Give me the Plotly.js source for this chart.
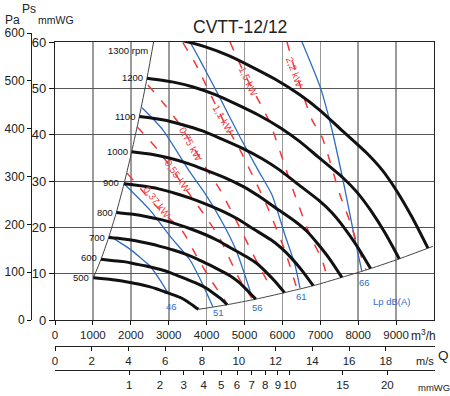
<!DOCTYPE html>
<html>
<head>
<meta charset="utf-8">
<script src="https://cdn.plot.ly/plotly-3.0.1.min.js"></script>
<style>html,body{margin:0;padding:0;background:#fff}#chart{width:450px;height:396px}</style>
</head>
<body>
<div id="chart"></div>
<script>
// ---------- data ----------
const rpmLabels = ["1300 rpm", "1200", "1100", "1000", "900", "800", "700", "600", "500"];

// fan curves: Q in m3/h, Ps in mmWG
const q1300 = [2630, 3350, 3950, 4600, 5150, 5800, 6460, 7000, 7520, 8230, 8630, 9020, 9440, 9840];
const p1300 = [61.3, 60.3, 59.0, 57.0, 54.8, 52.0, 48.6, 45.2, 41.3, 36.0, 32.4, 27.8, 21.9, 15.5];
const q1200 = [2428, 3092, 3646, 4246, 4754, 5354, 5963, 6462, 6942, 7597, 7966, 8326, 8714, 9083];
const p1200 = [52.2, 51.4, 50.3, 48.6, 46.7, 44.3, 41.4, 38.5, 35.2, 30.7, 27.6, 23.7, 18.7, 13.2];
const q1100 = [2225, 2835, 3342, 3892, 4358, 4908, 5466, 5923, 6363, 6964, 7302, 7632, 7988, 8326];
const p1100 = [43.9, 43.2, 42.2, 40.8, 39.2, 37.2, 34.8, 32.4, 29.6, 25.8, 23.2, 19.9, 15.7, 11.1];
const q1000 = [2023, 2577, 3038, 3538, 3962, 4462, 4969, 5385, 5785, 6331, 6638, 6938, 7262, 7569];
const p1000 = [36.3, 35.7, 34.9, 33.7, 32.4, 30.8, 28.8, 26.7, 24.4, 21.3, 19.2, 16.4, 13.0, 9.2];
const q900 = [1821, 2319, 2735, 3185, 3565, 4015, 4472, 4846, 5206, 5698, 5975, 6245, 6535, 6812];
const p900 = [29.4, 28.9, 28.3, 27.3, 26.3, 24.9, 23.3, 21.7, 19.8, 17.3, 15.5, 13.3, 10.5, 7.4];
const q800 = [1618, 2062, 2431, 2831, 3169, 3569, 3975, 4308, 4628, 5065, 5311, 5551, 5809, 6055];
const p800 = [23.2, 22.8, 22.3, 21.6, 20.8, 19.7, 18.4, 17.1, 15.6, 13.6, 12.3, 10.5, 8.3, 5.9];
const q700 = [1416, 1804, 2127, 2477, 2773, 3123, 3478, 3769, 4049, 4432, 4648, 4857, 5083, 5298];
const p700 = [17.8, 17.5, 17.1, 16.5, 15.9, 15.1, 14.1, 13.1, 12.0, 10.4, 9.4, 8.1, 6.3, 4.5];
const q600 = [1214, 1546, 1823, 2123, 2377, 2677, 2982, 3231, 3471, 3798, 3983, 4163, 4357, 4542];
const p600 = [13.1, 12.8, 12.6, 12.1, 11.7, 11.1, 10.4, 9.6, 8.8, 7.7, 6.9, 5.9, 4.7, 3.3];
const q500 = [1012, 1288, 1519, 1769, 1981, 2231, 2485, 2692, 2892, 3165, 3319, 3469, 3631, 3785];
const p500 = [9.1, 8.9, 8.7, 8.4, 8.1, 7.7, 7.2, 6.7, 6.1, 5.3, 4.8, 4.1, 3.2, 2.3];

// limit lines
const qStall = [1012, 1214, 1416, 1618, 1821, 2023, 2225, 2428, 2630];
const pStall = [9.1, 13.1, 17.8, 23.2, 29.4, 36.3, 43.9, 52.2, 61.3];
const qEnd = [3785, 4542, 5298, 6055, 6812, 7569, 8326, 9083, 9840, 9970];
const pEnd = [2.3, 3.3, 4.5, 5.9, 7.4, 9.2, 11.1, 13.2, 15.5, 15.9];

// sound pressure lines Lp dB(A)
const dbLabels = ["46", "51", "56", "61", "66"];
const q46 = [1451, 1979, 2322, 2507, 2771, 2982];
const p46 = [18.1, 15.3, 12.95, 11.65, 8.6, 5.8];
const q51 = [1821, 2507, 3034, 3562, 3879, 4169];
const p51 = [29.4, 23.7, 18.1, 12.95, 8.0, 2.8];
const q56 = [2296, 2850, 3562, 3984, 4406, 4776, 5198];
const p56 = [45.8, 41.0, 31.9, 27.0, 21.2, 15.1, 5.0];
const q61 = [3562, 3826, 4354, 4881, 5356, 5726, 6069, 6332, 6464];
const p61 = [60.0, 56.1, 47.9, 39.5, 32.4, 27.0, 18.3, 11.9, 6.9];
const q66 = [6517, 7005, 7309, 7652, 7916, 8100];
const p66 = [60.0, 50.1, 41.0, 28.1, 17.3, 10.4];

// absorbed power lines
const kwLabels = ["0,37 kW", "0,55 kW", "0,75 kW", "1,1 kW", "1,5 kW", "2,2 kW"];
const q037 = [1900, 2639, 3377, 3747, 4116, 4512];
const p037 = [31.7, 24.8, 19.0, 13.6, 8.6, 3.9];
const q055 = [2164, 2718, 3509, 3905, 4327, 4881, 5198];
const p055 = [41.7, 36.7, 27.6, 23.1, 17.9, 8.6, 4.7];
const q075 = [2454, 2902, 3298, 4011, 4354, 4749, 5330, 5726];
const p075 = [50.7, 46.4, 42.1, 32.4, 28.1, 22.0, 12.5, 6.5];
const q110 = [3377, 3694, 4433, 4881, 5594, 6069, 6385];
const p110 = [59.8, 55.5, 43.2, 36.7, 24.6, 14.9, 6.7];
const q150 = [4617, 5013, 5409, 5673, 6280, 6728, 7045, 7203];
const p150 = [60.0, 52.9, 46.8, 42.5, 28.1, 18.3, 13.0, 8.6];
const q220 = [6121, 6332, 6781, 7045, 7520, 7784, 8047, 8206];
const p220 = [60.0, 54.0, 43.2, 39.5, 27.0, 21.2, 14.5, 10.8];

// axis ticks
const qTicks = [0, 1000, 2000, 3000, 4000, 5000, 6000, 7000, 8000, 9000];
const psTicks = [0, 10, 20, 30, 40, 50, 60];
const paTicks = [0, 100, 200, 300, 400, 500, 600];
const msTicks = [0, 2, 4, 6, 8, 10, 12, 14, 16, 18];
const pdTicks = [1, 2, 3, 4, 5, 6, 7, 8, 9, 10, 15, 20];

// ---------- drawing ----------
const W = 450, H = 396;
const px = v => v / W, py = v => 1 - v / H;
const Q_PER_MS = 483.7;          // m3/h per 1 m/s outlet velocity (scale of the chart)
const MS_MAX = 10000 / Q_PER_MS;
const pdPos = pdTicks.map(p => Math.sqrt(p / 0.0612) * Q_PER_MS);

const BLACK = '#111', BLUE = '#2f6cc4', RED = '#f2383a';
const SANS = '"Liberation Sans", Arial, sans-serif';

const traces = [];
const line = (x, y, color, width, dash) => ({
  type: 'scatter', mode: 'lines', x, y, xaxis: 'x', yaxis: 'y',
  line: {color, width, dash: dash || 'solid', shape: 'spline', smoothing: 0.6},
  hoverinfo: 'skip', showlegend: false
});
traces.push(line(qStall, pStall, '#444', 1));
traces.push(line(qEnd, pEnd, '#444', 1));
[[q46,p46],[q51,p51],[q56,p56],[q61,p61],[q66,p66]].forEach(([x,y]) => traces.push(line(x, y, BLUE, 1.3)));
[[q037,p037],[q055,p055],[q075,p075],[q110,p110],[q150,p150],[q220,p220]].forEach(([x,y]) => traces.push(line(x, y, RED, 1.5, '9px,11px')));
[[q1300,p1300],[q1200,p1200],[q1100,p1100],[q1000,p1000],[q900,p900],[q800,p800],[q700,p700],[q600,p600],[q500,p500]]
  .forEach(([x,y]) => traces.push(line(x, y, BLACK, 3)));
// carriers for the extra axes
traces.push({type:'scatter', mode:'markers', x:[null], y:[null], xaxis:'x2', yaxis:'y2', showlegend:false, hoverinfo:'skip'});
traces.push({type:'scatter', mode:'markers', x:[null], y:[null], xaxis:'x3', yaxis:'y2', showlegend:false, hoverinfo:'skip'});

const ann = [];
const A = {xanchor:'center', yanchor:'middle', showarrow:false};
const rpmPos = [[1926,58.1],[2032,52.4],[1847,44.0],[1662,36.3],[1478,29.6],[1319,23.1],[1108,17.9],[897,13.4],[686,9.1]];
rpmLabels.forEach((t,i) => ann.push(Object.assign({text:t, x:rpmPos[i][0], y:rpmPos[i][1], xref:'x', yref:'y',
  font:{family:SANS, size:9.5, color:'#111'}}, A)));
const dbPos = [[3061,3.0],[4301,1.7],[5356,2.6],[6517,5.0],[8179,8.2]];
dbLabels.forEach((t,i) => ann.push(Object.assign({text:t, x:dbPos[i][0], y:dbPos[i][1], xref:'x', yref:'y',
  font:{family:SANS, size:9.5, color:BLUE}}, A)));
ann.push(Object.assign({text:'Lp dB(A)', x:8892, y:3.9, xref:'x', yref:'y', font:{family:SANS, size:9.5, color:BLUE}}, A));
const kwPos = [[2691,25.3,52],[3219,31.1,55],[3562,38.0,62],[4433,43.2,60],[5092,51.4,65],[6332,53.5,70]];
kwLabels.forEach((t,i) => ann.push(Object.assign({text:t, x:kwPos[i][0], y:kwPos[i][1], xref:'x', yref:'y',
  textangle:kwPos[i][2], font:{family:SANS, size:10, color:RED}}, A)));
const paperText = (text, x, y, size, color) => ann.push(Object.assign({text, x:px(x), y:py(y), xref:'paper', yref:'paper',
  font:{family:SANS, size, color:color||'#222'}}, A));
paperText('CVTT-12/12', 240, 27, 17.5);
paperText('Pa', 12, 20, 12);
paperText('Ps', 29, 9, 12);
paperText('mmWG', 56, 20, 10.5);
paperText('m<sup>3</sup>/h', 423, 335, 12);
paperText('m/s', 425, 361, 11);
paperText('Q', 443, 355, 13.5);
paperText('mmWG', 434, 387, 9.5);

const xDom = [px(55), px(434)];
const tickFont = {family: SANS, size: 11.5, color: '#222'};
const common = {ticks: 'outside', ticklen: 4, tickcolor: '#111', showline: true, linecolor: '#222', linewidth: 1.2,
  zeroline: false, automargin: false};
const layout = {
  width: W, height: H,
  margin: {l:0, r:0, t:0, b:0, pad:0, autoexpand:false},
  paper_bgcolor: '#fff', plot_bgcolor: 'rgba(0,0,0,0)',
  showlegend: false,
  xaxis: Object.assign({}, common, {domain: xDom, range: [0, 10000], anchor: 'y', tickvals: qTicks, ticktext: qTicks.map(String),
    mirror: true, showgrid: true, gridcolor: '#9a9a9a', gridwidth: 1.6, tickfont: tickFont, tickangle: 0}),
  yaxis: Object.assign({}, common, {domain: [py(320), py(42)], range: [0, 60], anchor: 'x', tickvals: psTicks, ticktext: psTicks.map(String),
    ticklen: 5, mirror: true, showgrid: true, gridcolor: '#555', gridwidth: 1, tickfont: {family: SANS, size: 13, color:'#222'}}),
  yaxis2: Object.assign({}, common, {domain: [py(320), py(33)], range: [0, 600], anchor: 'free', position: px(31), side: 'left',
    tickvals: paTicks, ticktext: paTicks.map(String), showgrid: false, tickfont: {family: SANS, size: 12, color:'#222'}}),
  xaxis2: Object.assign({}, common, {domain: [px(55), px(435)], range: [0, MS_MAX], anchor: 'free', position: py(346), side: 'bottom',
    tickvals: msTicks, ticktext: msTicks.map(String), showgrid: false, tickfont: tickFont, tickangle: 0}),
  xaxis3: Object.assign({}, common, {domain: [px(55), px(435)], range: [0, 10000], anchor: 'free', position: py(370), side: 'bottom',
    tickvals: pdPos, ticktext: pdTicks.map(String), showgrid: false, tickfont: tickFont, tickangle: 0}),
  annotations: ann
};
Plotly.newPlot('chart', traces, layout, {staticPlot: true, displayModeBar: false});
</script>
</body>
</html>
